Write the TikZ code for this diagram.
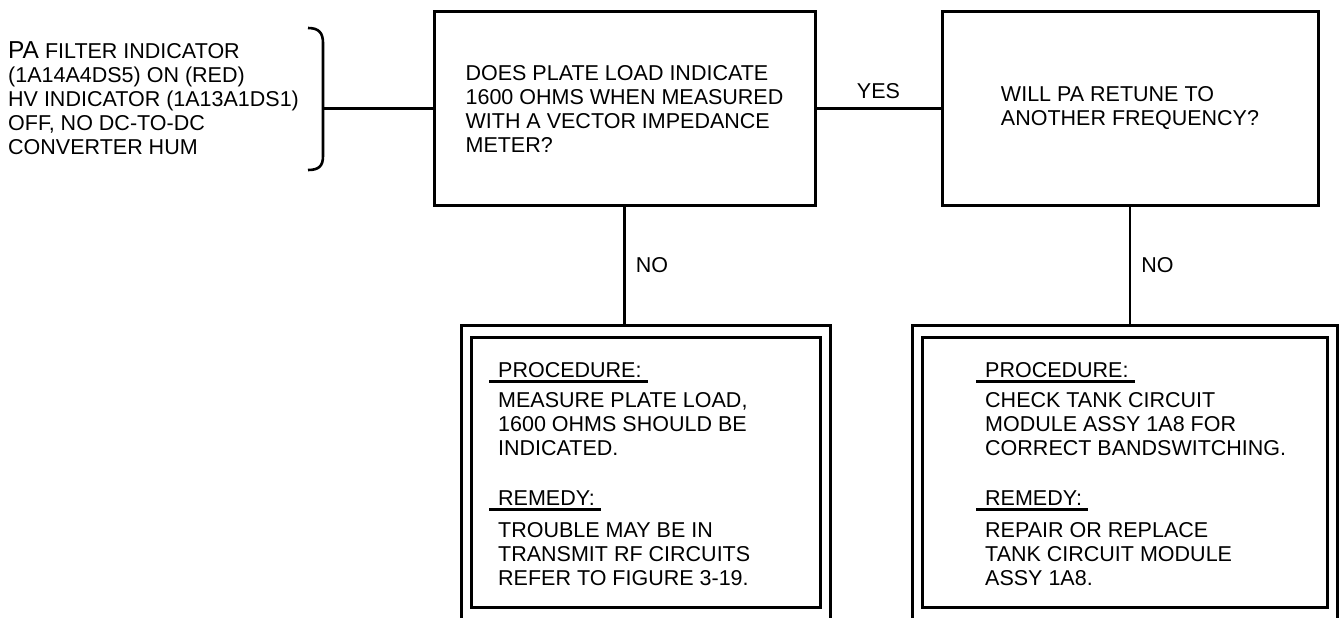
\documentclass[tikz,border=0pt]{standalone}
\usepackage{fontspec}
\setmainfont{Liberation Sans}
\usetikzlibrary{positioning}
\newcommand\txtsize{\fontsize{21.5}{24}\selectfont}
% underlined heading: rule a little left of and below the text
\newcommand\hdline[1]{\setbox0\hbox{#1}\rlap{\kern-9pt\vrule width\dimexpr\wd0+15pt\relax height -3pt depth 5.5pt}\box0}
\tikzset{
  query/.style={
    draw,
    line width=3pt,
    align=left,
    inner sep=0pt,
    font=\txtsize
  },
  frame/.style={
    draw,
    line width=3pt,
    inner sep=0pt
  },
  steps/.style={
    align=left,
    inner sep=0pt,
    anchor=north west,
    font=\txtsize
  },
  link/.style={
    line width=2.6pt
  },
  answer/.style={
    inner sep=0pt,
    font=\txtsize
  }
}
\begin{document}
\begin{tikzpicture}[x=1pt, y=-1pt]
  \clip (0,0) rectangle (1339,618);

  % symptom
  \node[steps] (symptom) at (8,41) {{\fontsize{24.5}{24}\selectfont PA} FILTER INDICATOR\\
    (1A14A4DS5) ON (RED)\\ HV INDICATOR (1A13A1DS1)\\ OFF, NO DC-TO-DC\\ CONVERTER HUM};
  \draw[link] (308,28) .. controls (319,28) and (323,33) .. (323,43)
    -- (323,156) .. controls (323,166) and (319,170) .. (308,170);
  \coordinate (brk) at (323,108.5);

  % questions
  \node[query, minimum width=381, minimum height=193] (plate) at (624.5,108.5)
    {DOES PLATE LOAD INDICATE\\ 1600 OHMS WHEN MEASURED\\ WITH A VECTOR IMPEDANCE\\ METER?};
  \node[query, minimum width=376, minimum height=193] (retune) at (1130,108.5)
    {WILL PA RETUNE TO\\ ANOTHER FREQUENCY?};

  % procedures
  \node[frame, minimum width=369, minimum height=325] (proc1) at (645.5,487.5) {};
  \node[frame, minimum width=349, minimum height=270] (proc1in) at (645.5,472) {};
  \node[frame, minimum width=425, minimum height=325] (proc2) at (1124.5,487.5) {};
  \node[frame, minimum width=405, minimum height=270] (proc2in) at (1124.5,472) {};

  \node[steps] (proc1txt) at (498,362) {\hdline{PROCEDURE:}\\[6pt]
    MEASURE PLATE LOAD,\\ 1600 OHMS SHOULD BE\\ INDICATED.\\[26pt]
    \hdline{REMEDY:}\\[8pt]
    TROUBLE MAY BE IN\\ TRANSMIT RF CIRCUITS\\ REFER TO FIGURE 3-19.};
  \node[steps] (proc2txt) at (985,362) {\hdline{PROCEDURE:}\\[6pt]
    CHECK TANK CIRCUIT\\ MODULE ASSY 1A8 FOR\\ CORRECT BANDSWITCHING.\\[26pt]
    \hdline{REMEDY:}\\[8pt]
    REPAIR OR REPLACE\\ TANK CIRCUIT MODULE\\ ASSY 1A8.};

  % connectors
  \draw[link] (brk) -- (plate.west);
  \draw[link] (plate.east) -- node[answer, above=8pt] {YES} (retune.west);
  \draw[link] (plate.south) -- node[answer, right=10pt] {NO} (plate.south |- proc1.north);
  \draw[link] (retune.south) -- node[answer, right=10pt] {NO} (retune.south |- proc2.north);
\end{tikzpicture}
\end{document}
